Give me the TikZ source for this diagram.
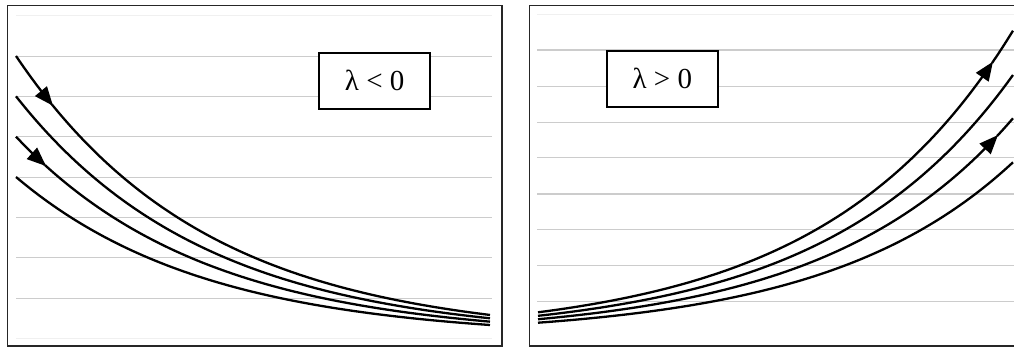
\documentclass[tikz,border=0pt]{standalone}
\usepackage{fontspec}
\setmainfont{Liberation Serif}
\usetikzlibrary{arrows.meta}
\tikzset{
  gridline/.style={draw=black!20, line width=1.1pt},
  faintline/.style={draw=black!6, line width=1pt},
  framebox/.style={draw=black!85, line width=1.6pt},
  curve/.style={draw=black, line width=2.3pt, line join=round},
  tipped/.style={curve, -{Triangle[length=19pt,width=15pt]}},
  labelbox/.style={draw=black, line width=1.6pt, fill=white, minimum width=111pt, minimum height=56pt, inner sep=0pt, font=\fontsize{29}{32}\selectfont}
}
\begin{document}
\begin{tikzpicture}[x=1pt,y=-1pt]
\useasboundingbox (0,0) rectangle (1014,347);
% ---------- left panel ----------
\draw[faintline] (16,16) -- (492,16);
\foreach \g in {56.3,96.6,136.9,177.2,217.5,257.8,298.1}{
  \draw[gridline] (16,\g) -- (492,\g);
}
\draw[faintline] (16,338.4) -- (492,338.4);
\draw[framebox] (7.3,5.7) rectangle (501.7,346);
% curves (lambda<0)
\draw[tipped] plot[domain=16:53, samples=20, smooth] (\x,{338.4-282.4*exp(-0.00525*(\x-16))});
\draw[curve] plot[domain=52:490, samples=80, smooth] (\x,{338.4-282.4*exp(-0.00525*(\x-16))});
\draw[curve] plot[domain=16:490, samples=90, smooth] (\x,{338.4-242.1*exp(-0.00525*(\x-16))});
\draw[tipped] plot[domain=16:46, samples=20, smooth] (\x,{338.4-201.7*exp(-0.00525*(\x-16))});
\draw[curve] plot[domain=45:490, samples=80, smooth] (\x,{338.4-201.7*exp(-0.00525*(\x-16))});
\draw[curve] plot[domain=16:490, samples=90, smooth] (\x,{338.4-161.4*exp(-0.00525*(\x-16))});
\node[labelbox] (neg) at (374.7,80.8) {λ < 0};
% ---------- right panel ----------
\draw[faintline] (537,15) -- (1014,15);
\foreach \g in {50,86.3,122.3,157.9,194,229.7,265.5,301.7}{
  \draw[gridline] (537,\g) -- (1014,\g);
}
\draw[framebox] (1016,5.7) -- (529.3,5.7) -- (529.3,345.7) -- (1016,345.7);
% curves (lambda>0)
\draw[tipped] plot[domain=538:993, samples=90, smooth] (\x,{336.5-305.8*exp(0.005344*(\x-1013))});
\draw[curve] plot[domain=992:1013, samples=10, smooth] (\x,{336.5-305.8*exp(0.005344*(\x-1013))});
\draw[curve] plot[domain=538:1013, samples=90, smooth] (\x,{336.5-261.5*exp(0.005344*(\x-1013))});
\draw[tipped] plot[domain=538:998, samples=90, smooth] (\x,{336.5-218.2*exp(0.005344*(\x-1013))});
\draw[curve] plot[domain=997:1013, samples=10, smooth] (\x,{336.5-218.2*exp(0.005344*(\x-1013))});
\draw[curve] plot[domain=538:1013, samples=90, smooth] (\x,{336.5-174.2*exp(0.005344*(\x-1013))});
\node[labelbox] (pos) at (662.3,78.8) {λ > 0};
\end{tikzpicture}
\end{document}
